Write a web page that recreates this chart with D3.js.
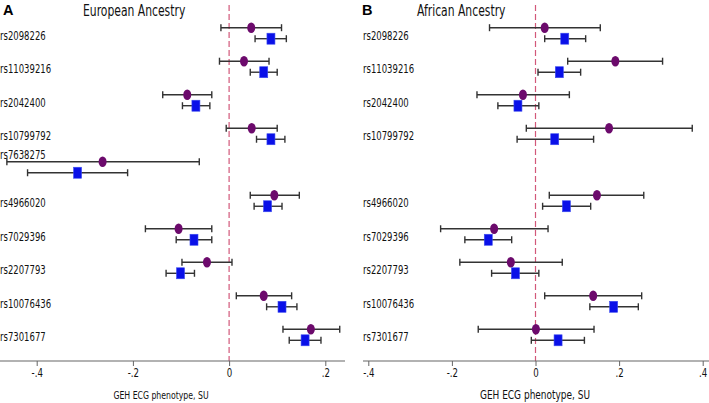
<!DOCTYPE html>
<html><head><meta charset="utf-8">
<script src="https://cdn.jsdelivr.net/npm/d3@7"></script>
<style>
body{margin:0;background:#fff;}
svg{display:block;}
.cond{font-family:"Liberation Sans Narrow","DejaVu Sans Condensed","Arial Narrow",sans-serif;font-stretch:condensed;}
</style></head>
<body><svg id="c" width="709" height="403"></svg>
<script>
const snps = ["rs2098226","rs11039216","rs2042400","rs10799792","rs7638275","rs4966020","rs7029396","rs2207793","rs10076436","rs7301677"];

// Panel A: European Ancestry
const eurCircleEst = [0.046, 0.031, -0.087, 0.047, -0.263, 0.094, -0.105, -0.046, 0.072, 0.170];
const eurCircleLo  = [-0.017, -0.020, -0.138, -0.006, -0.462, 0.044, -0.174, -0.098, 0.015, 0.112];
const eurCircleHi  = [0.109, 0.083, -0.036, 0.100, -0.062, 0.146, -0.036, 0.006, 0.130, 0.230];
const eurSquareEst = [0.087, 0.072, -0.069, 0.087, -0.315, 0.080, -0.073, -0.101, 0.110, 0.158];
const eurSquareLo  = [0.054, 0.044, -0.097, 0.057, -0.419, 0.052, -0.110, -0.131, 0.078, 0.125];
const eurSquareHi  = [0.119, 0.100, -0.040, 0.116, -0.211, 0.110, -0.036, -0.072, 0.141, 0.191];

// Panel B: African Ancestry (rs7638275 not available)
const afrCircleEst = [0.022, 0.191, -0.030, 0.176, null, 0.147, -0.099, -0.059, 0.138, 0.001];
const afrCircleLo  = [-0.110, 0.077, -0.140, -0.022, null, 0.033, -0.227, -0.181, 0.022, -0.137];
const afrCircleHi  = [0.155, 0.304, 0.081, 0.375, null, 0.259, 0.030, 0.064, 0.254, 0.140];
const afrSquareEst = [0.070, 0.057, -0.042, 0.046, null, 0.074, -0.113, -0.048, 0.187, 0.054];
const afrSquareLo  = [0.022, 0.006, -0.090, -0.044, null, 0.017, -0.169, -0.105, 0.130, -0.010];
const afrSquareHi  = [0.120, 0.108, 0.008, 0.139, null, 0.132, -0.057, 0.008, 0.246, 0.117];

const ticksA = [-0.4, -0.2, 0, 0.2];
const tickLabelsA = ["-.4", "-.2", "0", ".2"];
const ticksB = [-0.4, -0.2, 0, 0.2, 0.4];
const tickLabelsB = ["-.4", "-.2", "0", ".2", ".4"];
const xTitle = "GEH ECG phenotype, SU";

const svg = d3.select("#c");
const y = d3.scalePoint().domain(snps).range([27.7, 329.3]);
const axisY = 361;
const SX = 0.8;
// label vertical placement relative to row (rs7638275 label sits above its bar in the source)
const labelDy = s => s === "rs7638275" ? -7 : 8;

function ctext(sel, x, y, size, txt, anchor){
  return sel.append("text").attr("class","cond")
    .attr("transform",`translate(${x},${y}) scale(${SX},1)`)
    .attr("dy","0.35em").attr("font-size",size).attr("fill","#111")
    .attr("text-anchor",anchor||"start").text(txt);
}

function panel(opts){
  const g = svg.append("g");
  const x = opts.x;
  // row labels
  snps.forEach((s,i)=>{
    if(opts.cEst[i]===null) return;
    ctext(g, opts.labelX, y(s)+labelDy(s), 11.8, s);
  });
  // zero line
  g.append("line").attr("x1",x(0)).attr("x2",x(0)).attr("y1",5).attr("y2",axisY)
    .attr("stroke","#d2587a").attr("stroke-width",1.2).attr("stroke-dasharray","6,3");
  // axis
  const ax = g.append("g").attr("transform",`translate(0,${axisY})`)
    .call(d3.axisBottom(x).tickValues(opts.ticks).tickSize(5).tickSizeOuter(0)
      .tickFormat((d,i)=>opts.tickLabels[i]));
  ax.select(".domain").remove();
  ax.attr("font-family",null).attr("font-size",null);
  ax.selectAll(".tick line").attr("stroke","#666").attr("stroke-width",1);
  ax.selectAll(".tick text").attr("class","cond").attr("font-size",12).attr("fill","#111")
    .attr("y",7).attr("dy","0.71em").attr("transform",`scale(${SX},1)`);
  g.append("line").attr("x1",opts.axX0).attr("x2",opts.axX1).attr("y1",axisY).attr("y2",axisY)
    .attr("stroke","#666").attr("stroke-width",1.2);
  ctext(g, opts.titleX, 395, opts.titleSize, xTitle, "middle");
  // panel title
  ctext(g, opts.headX, 11, 15, opts.head);
  g.append("text").attr("x",opts.letterX).attr("y",10).attr("dy","0.35em")
    .attr("font-family","Liberation Sans, Arial, sans-serif").attr("font-weight","bold")
    .attr("font-size",14.5).attr("fill","#000").text(opts.letter);

  const series = [
    {est:opts.cEst, lo:opts.cLo, hi:opts.cHi, off:0, shape:"circle"},
    {est:opts.sEst, lo:opts.sLo, hi:opts.sHi, off:11, shape:"square"}
  ];
  series.forEach(s=>{
    const rows = snps.map((d,i)=>({snp:d, est:s.est[i], lo:s.lo[i], hi:s.hi[i]})).filter(r=>r.est!==null);
    const eg = g.append("g").attr("stroke","#333").attr("stroke-width",1.4);
    eg.selectAll("line.ci").data(rows).join("line")
      .attr("x1",r=>x(r.lo)).attr("x2",r=>x(r.hi))
      .attr("y1",r=>y(r.snp)+s.off).attr("y2",r=>y(r.snp)+s.off);
    eg.selectAll("line.cl").data(rows).join("line")
      .attr("x1",r=>x(r.lo)).attr("x2",r=>x(r.lo))
      .attr("y1",r=>y(r.snp)+s.off-3.5).attr("y2",r=>y(r.snp)+s.off+3.5);
    eg.selectAll("line.ch").data(rows).join("line")
      .attr("x1",r=>x(r.hi)).attr("x2",r=>x(r.hi))
      .attr("y1",r=>y(r.snp)+s.off-3.5).attr("y2",r=>y(r.snp)+s.off+3.5);
    if(s.shape==="circle"){
      g.selectAll(null).data(rows).join("ellipse")
        .attr("cx",r=>x(r.est)).attr("cy",r=>y(r.snp)+s.off)
        .attr("rx",4).attr("ry",5.3).attr("fill","#6c0a6c");
    } else {
      g.selectAll(null).data(rows).join("rect")
        .attr("x",r=>x(r.est)-4).attr("y",r=>y(r.snp)+s.off-5.5)
        .attr("width",8).attr("height",11).attr("fill","#0a10e8")
        .attr("stroke","#3c4cf0").attr("stroke-width",0.6);
    }
  });
}

panel({
  x: d3.scaleLinear().domain([-0.4,0.2]).range([36.7,325.3]),
  ticks: ticksA, tickLabels: tickLabelsA,
  cEst:eurCircleEst, cLo:eurCircleLo, cHi:eurCircleHi,
  sEst:eurSquareEst, sLo:eurSquareLo, sHi:eurSquareHi,
  labelX: 0, axX0: 0, axX1: 345, titleX: 161, titleSize: 10.8,
  head: "European Ancestry", headX: 83, letter:"A", letterX: 3
});
panel({
  x: d3.scaleLinear().domain([-0.4,0.4]).range([368.3,702.7]),
  ticks: ticksB, tickLabels: tickLabelsB,
  cEst:afrCircleEst, cLo:afrCircleLo, cHi:afrCircleHi,
  sEst:afrSquareEst, sLo:afrSquareLo, sHi:afrSquareHi,
  labelX: 363, axX0: 363, axX1: 709, titleX: 535, titleSize: 12.5,
  head: "African Ancestry", headX: 417, letter:"B", letterX: 362
});
</script></body></html>
